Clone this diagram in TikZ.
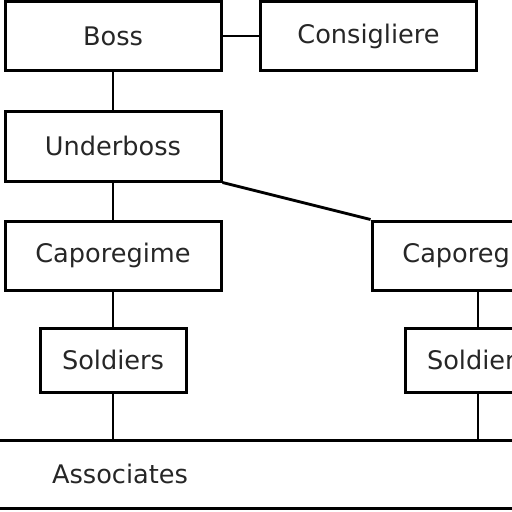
\documentclass[tikz,border=0pt]{standalone}
\usepackage{fontspec}
\setmainfont{DejaVu Sans}
\begin{document}
\begin{tikzpicture}[x=1pt,y=-1pt,
    rank/.style={draw,line width=3pt,minimum width=216pt,minimum height=69pt,inner sep=0pt},
    troop/.style={rank,minimum width=146pt,minimum height=64pt},
    link/.style={line width=2.8pt},
    every node/.style={font=\fontsize{25.6pt}{30pt}\selectfont,text=black!85}]
  \useasboundingbox (0,0) rectangle (512,512);
  \clip (0,0) rectangle (512,512);
  % top of the family
  \node[rank] (boss) at (113,36) {Boss};
  \node[rank] (consig) at (368.5,36) {Consigliere};
  \node[rank,minimum height=70pt] (underboss) at (113,146) {Underboss};
  % crews
  \node[rank] (capoL) at (113,255.5) {Caporegime};
  \node[rank] (capoR) at (480,255.5) {Caporegime};
  \node[troop] (soldL) at (113,360) {Soldiers};
  \node[troop] (soldR) at (478,360) {Soldiers};
  % associates band
  \draw[line width=3pt] (-10,440) rectangle (600,508);
  \coordinate (band) at (0,440);
  \node (assoc) at (120,474) {Associates};
  \draw[link] (boss) -- (consig);
  \draw[link] (boss) -- (underboss);
  \draw[link] (underboss) -- (capoL);
  \draw[link] (underboss.south east) -- (capoR.north west);
  \draw[link] (capoL) -- (soldL);
  \draw[link] (soldR |- capoR.south) -- (soldR);
  \draw[link] (soldL) -- (soldL |- band);
  \draw[link] (soldR) -- (soldR |- band);
\end{tikzpicture}
\end{document}
